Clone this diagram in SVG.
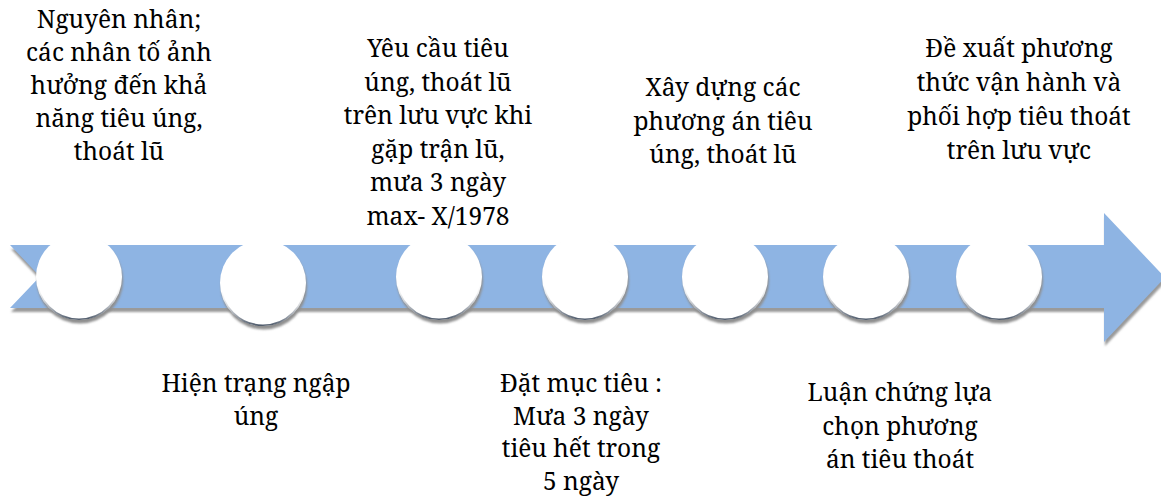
<svg xmlns="http://www.w3.org/2000/svg" width="1161" height="498" viewBox="0 0 1161 498">
  <style>
    text { font-family: 'Noto Serif', 'Liberation Serif', serif; font-size: 24.5px; fill: #000; text-anchor: middle; }
    .arrow { fill: #8EB4E3; }
    .arrow-shadow { fill: #9a9a9a; }
    .disc { fill: #ffffff; }
    .disc-shadow { fill: #8f8f8f; }
    .disc-edge { fill: none; stroke: url(#edgeGrad); stroke-width: 1.6; }
  </style>
  <defs>
    <linearGradient id="edgeGrad" x1="0" y1="0" x2="0" y2="1">
      <stop offset="0" stop-color="#ffffff" stop-opacity="0"/>
      <stop offset="0.55" stop-color="#ffffff" stop-opacity="0"/>
      <stop offset="1" stop-color="#3d4a5c" stop-opacity="0.9"/>
    </linearGradient>
    <filter id="soft" x="-5%" y="-20%" width="110%" height="140%">
      <feGaussianBlur stdDeviation="0.8"/>
    </filter>
    <g id="bubble">
      <circle class="disc-shadow" cx="1" cy="3.5" r="43" filter="url(#soft)"/>
      <circle class="disc" cx="0" cy="0" r="43"/>
      <circle class="disc-edge" cx="0" cy="0" r="42.2"/>
    </g>
  </defs>

  <g id="connectors">
    <polygon class="arrow-shadow" filter="url(#soft)" transform="translate(1,4)"
      points="10,245 1104,245 1104,213 1165,277.5 1104,342 1104,308 10,308 40,276.5"/>
    <polygon class="arrow"
      points="10,245 1104,245 1104,213 1165,277.5 1104,342 1104,308 10,308 40,276.5"/>
  </g>

  <g id="node1">
    <use href="#bubble" x="79" y="277"/>
    <text><tspan x="119" y="28">Nguyên nhân;</tspan><tspan x="119" y="61">các nhân tố ảnh</tspan><tspan x="119" y="94">hưởng đến khả</tspan><tspan x="119" y="127">năng tiêu úng,</tspan><tspan x="119" y="160">thoát lũ</tspan></text>
  </g>
  <g id="node2">
    <use href="#bubble" x="263" y="283"/>
    <text><tspan x="256" y="392">Hiện trạng ngập</tspan><tspan x="256" y="425">úng</tspan></text>
  </g>
  <g id="node3">
    <use href="#bubble" x="439" y="277"/>
    <text><tspan x="438" y="57">Yêu cầu tiêu</tspan><tspan x="438" y="90.5">úng, thoát lũ</tspan><tspan x="438" y="124">trên lưu vực khi</tspan><tspan x="438" y="157.5">gặp trận lũ,</tspan><tspan x="438" y="191">mưa 3 ngày</tspan><tspan x="438" y="224.5">max- X/1978</tspan></text>
  </g>
  <g id="node4">
    <use href="#bubble" x="585" y="277"/>
    <text><tspan x="581" y="392">Đặt mục tiêu :</tspan><tspan x="581" y="424.5">Mưa 3 ngày</tspan><tspan x="581" y="457">tiêu hết trong</tspan><tspan x="581" y="489.5">5 ngày</tspan></text>
  </g>
  <g id="node5">
    <use href="#bubble" x="725" y="277"/>
    <text><tspan x="723" y="96">Xây dựng các</tspan><tspan x="723" y="129.5">phương án tiêu</tspan><tspan x="723" y="163">úng, thoát lũ</tspan></text>
  </g>
  <g id="node6">
    <use href="#bubble" x="866" y="277"/>
    <text><tspan x="900" y="401">Luận chứng lựa</tspan><tspan x="900" y="434.5">chọn phương</tspan><tspan x="900" y="468">án tiêu thoát</tspan></text>
  </g>
  <g id="node7">
    <use href="#bubble" x="999" y="277"/>
    <text><tspan x="1019" y="57">Đề xuất phương</tspan><tspan x="1019" y="91">thức vận hành và</tspan><tspan x="1019" y="125">phối hợp tiêu thoát</tspan><tspan x="1019" y="159">trên lưu vực</tspan></text>
  </g>
</svg>
